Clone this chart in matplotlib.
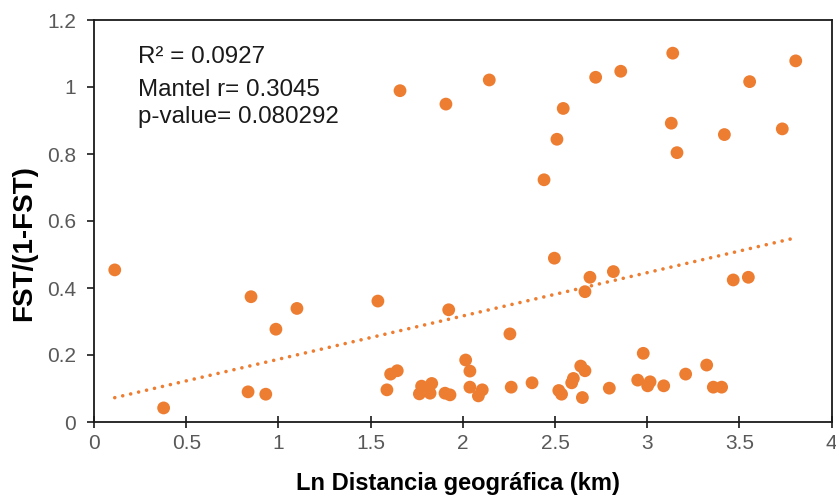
import numpy as np
import matplotlib
matplotlib.use("Agg")
import matplotlib.pyplot as plt

plt.rcParams['font.family'] = ['Liberation Sans', 'DejaVu Sans']

# Data (Ln geographic distance, FST/(1-FST))
ln_dist = [1.659, 1.908, 2.143, 2.720, 2.856, 3.138, 3.805, 3.555, 2.544, 2.510,
           2.440, 3.130, 3.161, 3.418, 3.732,
           0.112, 0.851, 1.100, 0.986, 1.539, 1.923, 2.255, 2.496, 2.689, 2.816,
           2.662, 3.466, 3.548,
           0.377, 0.835, 0.931, 1.588, 1.608, 1.644, 1.764, 1.776, 1.822, 1.831,
           1.903, 1.930, 2.015, 2.038, 2.038, 2.084, 2.105, 2.262, 2.375, 2.520,
           2.535, 2.590, 2.599, 2.639, 2.662, 2.648, 2.794, 2.948, 2.978, 3.015,
           3.002, 3.089, 3.208, 3.322, 3.358, 3.403]
fst_ratio = [0.989, 0.949, 1.021, 1.029, 1.047, 1.101, 1.078, 1.016, 0.936, 0.844,
             0.723, 0.892, 0.804, 0.858, 0.875,
             0.454, 0.374, 0.339, 0.277, 0.361, 0.335, 0.263, 0.489, 0.432, 0.449,
             0.389, 0.424, 0.432,
             0.042, 0.090, 0.083, 0.096, 0.143, 0.153, 0.084, 0.107, 0.086, 0.115,
             0.086, 0.081, 0.185, 0.152, 0.104, 0.078, 0.096, 0.104, 0.117, 0.094,
             0.083, 0.117, 0.130, 0.167, 0.153, 0.073, 0.101, 0.125, 0.205, 0.120,
             0.108, 0.108, 0.143, 0.170, 0.104, 0.104]

x_ticks = [0, 0.5, 1, 1.5, 2, 2.5, 3, 3.5, 4]
x_tick_labels = ["0", "0.5", "1", "1.5", "2", "2.5", "3", "3.5", "4"]
y_ticks = [0, 0.2, 0.4, 0.6, 0.8, 1.0, 1.2]
y_tick_labels = ["0", "0.2", "0.4", "0.6", "0.8", "1", "1.2"]

stats_lines = ["R\u00b2 = 0.0927", "Mantel r= 0.3045", "p-value= 0.080292"]

orange = '#ED7D31'

fig = plt.figure(figsize=(8.37, 4.97), dpi=100)
ax = fig.add_axes([94.1 / 837, 1 - 422 / 497, (831.7 - 94.1) / 837, (422 - 20) / 497])

x = np.array(ln_dist)
y = np.array(fst_ratio)
ax.scatter(x, y, s=85, color=orange, edgecolors='none', zorder=3)

# Linear trendline
slope, intercept = np.polyfit(x, y, 1)
xt = np.array([x.min(), x.max()])
ax.plot(xt, slope * xt + intercept, color=orange, linewidth=2.6,
        linestyle=(0, (0.01, 2.25)), dash_capstyle='round', zorder=2)

ax.set_xlim(0, 4)
ax.set_ylim(0, 1.2)
ax.set_xticks(x_ticks)
ax.set_xticklabels(x_tick_labels)
ax.set_yticks(y_ticks)
ax.set_yticklabels(y_tick_labels)

for sp in ax.spines.values():
    sp.set_linewidth(1.3)
    sp.set_color('#1a1a1a')

ax.tick_params(axis='x', direction='inout', length=9, width=1.2, colors='#1a1a1a',
               labelcolor='#595959', labelsize=15, pad=4)
ax.tick_params(axis='y', direction='out', length=5, width=1.2, colors='#1a1a1a',
               labelcolor='#595959', labelsize=15, pad=8)

ax.set_xlabel("Ln Distancia geogr\u00e1fica (km)", fontsize=17, fontweight='bold',
              color='black', va='top')
ax.xaxis.set_label_coords((457.5 - 94.1) / 737.6, (422 - 472) / 402)
ax.set_ylabel("FST/(1-FST)", fontsize=20, fontweight='bold', color='black', va='center')
ax.yaxis.set_label_coords((24 - 94.1) / 737.6, (422 - 243.5) / 402)

baselines_px = [63, 95.5, 123.5]
for txt, bpx in zip(stats_lines, baselines_px):
    ax.text((138 - 94.1) / 737.6, (422 - bpx) / 402, txt, transform=ax.transAxes,
            fontsize=17.4, color='#1a1a1a', ha='left', va='baseline')

fig.savefig("out.png", dpi=100)
